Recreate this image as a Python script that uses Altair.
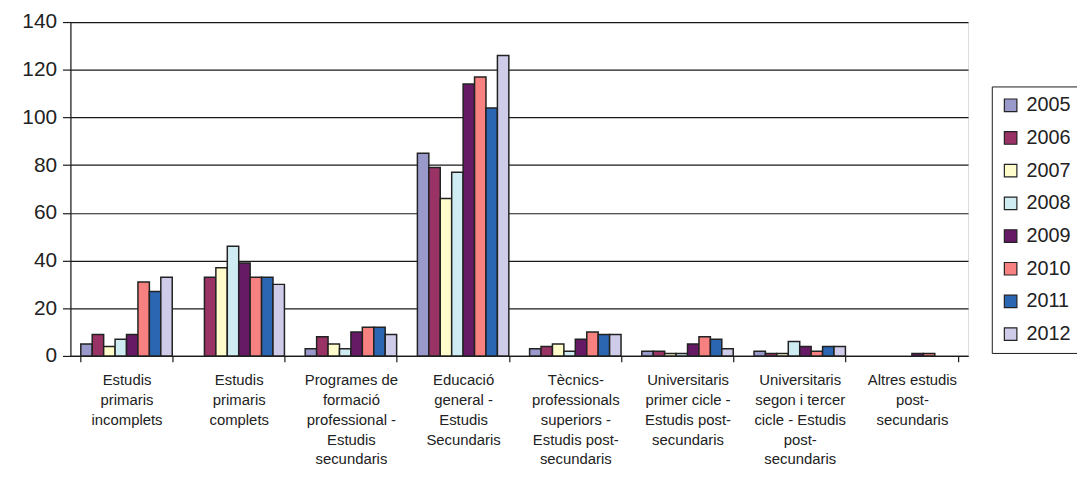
import altair as alt
import pandas as pd

categories = [
    "Estudis\nprimaris\nincomplets",
    "Estudis\nprimaris\ncomplets",
    "Programes de\nformació\nprofessional -\nEstudis\nsecundaris",
    "Educació\ngeneral -\nEstudis\nSecundaris",
    "Tècnics-\nprofessionals\nsuperiors -\nEstudis post-\nsecundaris",
    "Universitaris\nprimer cicle -\nEstudis post-\nsecundaris",
    "Universitaris\nsegon i tercer\ncicle - Estudis\npost-\nsecundaris",
    "Altres estudis\npost-\nsecundaris",
]
years = ["2005", "2006", "2007", "2008", "2009", "2010", "2011", "2012"]

v2005 = [5, 0, 3, 85, 3, 2, 2, 0]
v2006 = [9, 33, 8, 79, 4, 2, 1, 0]
v2007 = [4, 37, 5, 66, 5, 1, 1, 0]
v2008 = [7, 46, 3, 77, 2, 1, 6, 0]
v2009 = [9, 39, 10, 114, 7, 5, 4, 1]
v2010 = [31, 33, 12, 117, 10, 8, 2, 1]
v2011 = [27, 33, 12, 104, 9, 7, 4, 0]
v2012 = [33, 30, 9, 126, 9, 3, 4, 0]

colors = ["#9999CC", "#993366", "#FFFCCC", "#CFECF2", "#661A66", "#F78080", "#2B66B2", "#CECCE8"]

series = [v2005, v2006, v2007, v2008, v2009, v2010, v2011, v2012]
rows = []
for y, vals in zip(years, series):
    for c, v in zip(categories, vals):
        rows.append({"cat": c, "year": y, "value": v})
df = pd.DataFrame(rows)

font = "Liberation Sans"
dark = "#1a1a1a"

chart = alt.Chart(df).transform_filter("datum.value > 0").mark_bar(
    stroke="#222222", strokeWidth=1.5
).encode(
    x=alt.X("cat:N", sort=categories, title=None,
            scale=alt.Scale(domain=categories, paddingInner=0.185, paddingOuter=0.0925),
            axis=alt.Axis(labelAngle=0, labelExpr="split(datum.label, '\\n')",
                          labelFont=font, labelFontSize=15, labelLineHeight=20,
                          labelColor="#222222", labelPadding=11, labelBaseline="top",
                          tickBand="extent", tickSize=6, tickColor=dark, tickWidth=1.2,
                          domainColor=dark, domainWidth=1.2, labelLimit=200)),
    xOffset=alt.XOffset("year:N", sort=years,
                        scale=alt.Scale(domain=years, paddingInner=0, paddingOuter=0)),
    y=alt.Y("value:Q", title=None,
            scale=alt.Scale(domain=[0, 140], nice=False),
            axis=alt.Axis(values=[0, 20, 40, 60, 80, 100, 120, 140],
                          labelFont=font, labelFontSize=21, labelColor="#222222",
                          tickSize=8, tickColor=dark, tickWidth=1.2, labelPadding=6,
                          domainColor=dark, domainWidth=1.2,
                          gridColor=dark, gridWidth=1.2, gridOpacity=1)),
    color=alt.Color("year:N", sort=years, scale=alt.Scale(domain=years, range=colors),
                    legend=alt.Legend(title=None, orient="none", legendX=930, legendY=65,
                                      labelFont=font, labelFontSize=20, labelColor="#222222",
                                      symbolType="square", symbolSize=160,
                                      symbolStrokeColor="#222222", symbolStrokeWidth=1.2,
                                      labelOffset=6, rowPadding=13, padding=9,
                                      strokeColor=dark, fillColor="white")),
).properties(
    width=906, height=337,
    autosize=alt.AutoSizeParams(type="none"),
    padding={"left": 63, "top": 12, "right": 110, "bottom": 117},
).configure_view(stroke=dark, strokeWidth=1.2).configure(background="white")

chart.save("out.html", embed_options={"renderer": "svg", "actions": False})
